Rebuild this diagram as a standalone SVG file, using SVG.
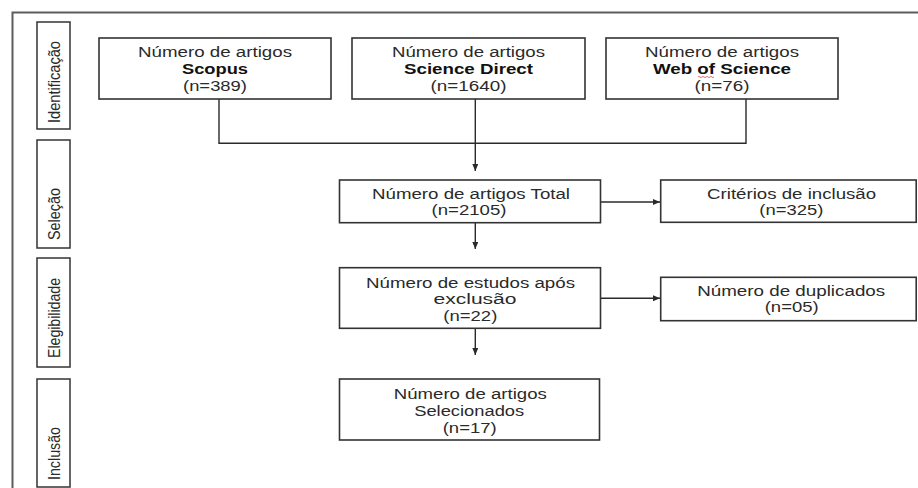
<svg xmlns="http://www.w3.org/2000/svg" width="918" height="488" viewBox="0 0 918 488">
<style>
.frame{fill:none;stroke:#5c5c5c;stroke-width:2}
.box{fill:#fff;stroke:#333;stroke-width:1.6}
.side{fill:#fff;stroke:#333;stroke-width:1.5}
.t{font-family:"Liberation Sans",Arial,sans-serif;font-size:14px;fill:#2a2a2a;text-anchor:middle}
.b{font-weight:bold;fill:#111}
.v{font-family:"Liberation Sans",Arial,sans-serif;font-size:14.5px;fill:#2a2a2a;text-anchor:start}
.c{fill:none;stroke:#2a2a2a;stroke-width:1.4}
</style>
<defs>
<marker id="ah" markerUnits="userSpaceOnUse" markerWidth="8" markerHeight="8" refX="7" refY="3" orient="auto">
<path d="M0,0 L7,3 L0,6 z" fill="#2a2a2a"/>
</marker>
</defs>
<rect width="918" height="488" fill="#fff"/>
<path class="frame" d="M12.5,490 V12.5 H920"/>

<g id="lbl-identificacao">
<rect class="side" x="37" y="22" width="33" height="107"/>
<text class="v" transform="translate(60,123) scale(1.2,1) rotate(-90)" textLength="82" lengthAdjust="spacingAndGlyphs">Identificação</text>
</g>
<g id="lbl-selecao">
<rect class="side" x="37" y="140" width="33" height="108"/>
<text class="v" transform="translate(60,240) scale(1.2,1) rotate(-90)" textLength="52" lengthAdjust="spacingAndGlyphs">Seleção</text>
</g>
<g id="lbl-elegibilidade">
<rect class="side" x="37" y="258" width="33" height="109"/>
<text class="v" transform="translate(60,358) scale(1.2,1) rotate(-90)" textLength="80" lengthAdjust="spacingAndGlyphs">Elegibilidade</text>
</g>
<g id="lbl-inclusao">
<rect class="side" x="37" y="379" width="33" height="108"/>
<text class="v" transform="translate(60,480) scale(1.2,1) rotate(-90)" textLength="53" lengthAdjust="spacingAndGlyphs">Inclusão</text>
</g>

<g id="connectors">
<path class="c" d="M219,99 V143.3 H746 V99"/>
<path class="c" d="M475.3,99 V171" marker-end="url(#ah)"/>
<path class="c" d="M475.3,223 V249" marker-end="url(#ah)"/>
<path class="c" d="M475.3,328 V355" marker-end="url(#ah)"/>
<path class="c" d="M601,202 H660" marker-end="url(#ah)"/>
<path class="c" d="M601,298.3 H660" marker-end="url(#ah)"/>
</g>

<g id="scopus">
<rect class="box" x="99" y="38" width="232" height="61"/>
<text class="t" x="215" y="56.5" textLength="154" lengthAdjust="spacingAndGlyphs">Número de artigos</text>
<text class="t b" x="215" y="73.5" textLength="66" lengthAdjust="spacingAndGlyphs">Scopus</text>
<text class="t" x="215" y="90.5" textLength="64" lengthAdjust="spacingAndGlyphs">(n=389)</text>
</g>
<g id="sciencedirect">
<rect class="box" x="352" y="38" width="233" height="61"/>
<text class="t" x="468.5" y="56.5" textLength="153" lengthAdjust="spacingAndGlyphs">Número de artigos</text>
<text class="t b" x="468.5" y="73.5" textLength="129" lengthAdjust="spacingAndGlyphs">Science Direct</text>
<text class="t" x="468.5" y="90.5" textLength="76" lengthAdjust="spacingAndGlyphs">(n=1640)</text>
</g>
<g id="webofscience">
<rect class="box" x="606" y="38" width="232" height="61"/>
<text class="t" x="722" y="56.5" textLength="154" lengthAdjust="spacingAndGlyphs">Número de artigos</text>
<text class="t b" x="722" y="73.5" textLength="138" lengthAdjust="spacingAndGlyphs">Web of Science</text>
<path d="M698,77 q1,-1.2 2,0 t2,0 t2,0 t2,0 t2,0 t2,0 t2,0 t2,0" fill="none" stroke="#e06060" stroke-width="0.9"/>
<text class="t" x="722" y="90.5" textLength="55" lengthAdjust="spacingAndGlyphs">(n=76)</text>
</g>
<g id="total">
<rect class="box" x="339.5" y="180" width="261" height="42.7"/>
<text class="t" x="471" y="198.5" textLength="198" lengthAdjust="spacingAndGlyphs">Número de artigos Total</text>
<text class="t" x="469" y="215" textLength="75" lengthAdjust="spacingAndGlyphs">(n=2105)</text>
</g>
<g id="criterios">
<rect class="box" x="660.7" y="180" width="255.5" height="42.3"/>
<text class="t" x="791.6" y="198.5" textLength="169" lengthAdjust="spacingAndGlyphs">Critérios de inclusão</text>
<text class="t" x="791.3" y="214.5" textLength="64" lengthAdjust="spacingAndGlyphs">(n=325)</text>
</g>
<g id="estudos">
<rect class="box" x="339.5" y="267.7" width="261" height="60.6"/>
<text class="t" x="470.5" y="287.5" textLength="209" lengthAdjust="spacingAndGlyphs">Número de estudos após</text>
<text class="t" x="475" y="304" textLength="83" lengthAdjust="spacingAndGlyphs">exclusão</text>
<text class="t" x="470.3" y="320.5" textLength="54" lengthAdjust="spacingAndGlyphs">(n=22)</text>
</g>
<g id="duplicados">
<rect class="box" x="660.7" y="277.3" width="255.5" height="43.4"/>
<text class="t" x="791.2" y="295.5" textLength="188" lengthAdjust="spacingAndGlyphs">Número de duplicados</text>
<text class="t" x="791.7" y="312" textLength="54" lengthAdjust="spacingAndGlyphs">(n=05)</text>
</g>
<g id="selecionados">
<rect class="box" x="339.5" y="379" width="260" height="61"/>
<text class="t" x="470.3" y="398.5" textLength="153" lengthAdjust="spacingAndGlyphs">Número de artigos</text>
<text class="t" x="469.2" y="415.5" textLength="110" lengthAdjust="spacingAndGlyphs">Selecionados</text>
<text class="t" x="469.7" y="432.5" textLength="54" lengthAdjust="spacingAndGlyphs">(n=17)</text>
</g>
</svg>
